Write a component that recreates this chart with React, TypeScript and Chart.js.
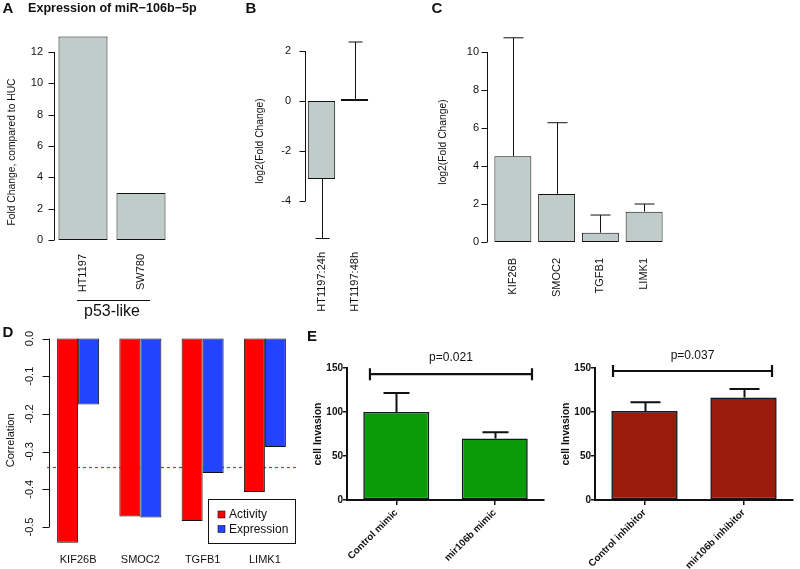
import React, { useEffect, useRef } from "react";
import { Chart, registerables } from "chart.js";

Chart.register(...registerables);

const W = 800;
const H = 569;
const FONT = '"Liberation Sans", Arial, Helvetica, sans-serif';
Chart.defaults.font.family = FONT;
Chart.defaults.color = "#111";

// ---------- Panel A ----------
const catsA = ["HT1197", "SW780"];
const valsA = [13, 3];
const ticksA = [0, 2, 4, 6, 8, 10, 12];
const titleA = "Expression of miR\u2212106b\u22125p";
const groupA = "p53-like";

// ---------- Panel B ----------
const catsB = ["HT1197:24h", "HT1197:48h"];
const valsB = [-3.12, 0.08];
const errB = [-5.5, 2.36];
const ticksB = [-4, -2, 0, 2];

// ---------- Panel C ----------
const catsC = ["KIF26B", "SMOC2", "TGFB1", "LIMK1"];
const valsC = [4.52, 2.53, 0.49, 1.6];
const errC = [10.75, 6.28, 1.42, 2.0];
const ticksC = [0, 2, 4, 6, 8, 10];

// ---------- Panel D ----------
const catsD = ["KIF26B", "SMOC2", "TGFB1", "LIMK1"];
const activityD = [-0.542, -0.472, -0.484, -0.407];
const expressionD = [-0.175, -0.475, -0.357, -0.288];
const ticksD = [0, -0.1, -0.2, -0.3, -0.4, -0.5];
const thresholdD = -0.341;

// ---------- Panel E ----------
const catsE1 = ["Control mimic", "mir106b mimic"];
const valsE1 = [100, 70];
const errE1 = [121.5, 77];
const catsE2 = ["Control inhibitor", "mir106b inhibitor"];
const valsE2 = [101, 116.5];
const errE2 = [111, 126];
const ticksE = [0, 50, 100, 150];
const pE1 = "p=0.021";
const pE2 = "p=0.037";

const GRAY = "#C0CCC9";
const INK = "#111";

type Area = { l: number; r: number; t: number; b: number };

function frame(area: Area, yW: number) {
  const xH = H - area.b;
  return {
    padding: { left: area.l - yW, right: W - area.r, top: area.t, bottom: 0 },
    yFit: (s: any) => {
      s.width = yW;
    },
    xFit: (s: any) => {
      s.height = xH;
    },
  };
}

function setTicks(values: number[]) {
  return (s: any) => {
    s.ticks = values.map((v) => ({ value: v }));
  };
}

type Txt = { text: string; x: number; y: number; font: string; align?: CanvasTextAlign; rotate?: number };
type Decor = {
  rAxis?: { dx: number; tick: number };
  errors?: { ds: number; hi: number[]; cap: number; width: number }[];
  hline?: { value: number; color: string; dash: number[] };
  texts?: Txt[];
  segs?: { x1: number; y1: number; x2: number; y2: number }[];
  legend?: { x: number; y: number; w: number; h: number; font: string };
  bracket?: { from: number; to: number; value: number; end: number; text: string; font: string; gap: number };
};

function decor(d: Decor) {
  return {
    id: "rdecor",
    beforeDatasetsDraw(chart: any) {
      if (!d.hline) return;
      const { ctx, chartArea: ca, scales } = chart;
      const py = Math.round(scales.y.getPixelForValue(d.hline.value)) + 0.5;
      ctx.save();
      ctx.strokeStyle = d.hline.color;
      ctx.lineWidth = 1.2;
      ctx.setLineDash(d.hline.dash);
      ctx.beginPath();
      ctx.moveTo(ca.left, py);
      ctx.lineTo(ca.right, py);
      ctx.stroke();
      ctx.restore();
    },
    afterDraw(chart: any) {
      const { ctx, chartArea: ca, scales } = chart;
      const xs = scales.x;
      const ys = scales.y;
      ctx.save();
      ctx.strokeStyle = INK;
      ctx.fillStyle = INK;
      if (d.rAxis) {
        const vals = ys.ticks.map((t: any) => t.value);
        const ax = Math.round(ca.left + d.rAxis.dx) + 0.5;
        ctx.lineWidth = 1;
        ctx.beginPath();
        ctx.moveTo(ax, ys.getPixelForValue(Math.max(...vals)));
        ctx.lineTo(ax, ys.getPixelForValue(Math.min(...vals)));
        for (const v of vals) {
          const py = Math.round(ys.getPixelForValue(v)) + 0.5;
          ctx.moveTo(ax - d.rAxis.tick, py);
          ctx.lineTo(ax, py);
        }
        ctx.stroke();
      }
      if (d.errors) {
        for (const e of d.errors) {
          const meta = chart.getDatasetMeta(e.ds);
          const data = chart.data.datasets[e.ds].data;
          meta.data.forEach((bar: any, i: number) => {
            const y0 = ys.getPixelForValue(data[i]);
            const y1 = ys.getPixelForValue(e.hi[i]);
            const bx = Math.round(bar.x) + 0.5;
            ctx.lineWidth = e.width;
            ctx.beginPath();
            ctx.moveTo(bx, y0);
            ctx.lineTo(bx, y1);
            ctx.moveTo(bx - e.cap / 2, y1);
            ctx.lineTo(bx + e.cap / 2, y1);
            ctx.stroke();
          });
        }
      }
      if (d.bracket) {
        const b = d.bracket;
        const x1 = xs.getPixelForValue(b.from);
        const x2 = xs.getPixelForValue(b.to);
        const py = ys.getPixelForValue(b.value);
        ctx.lineWidth = 2.2;
        ctx.beginPath();
        ctx.moveTo(x1, py);
        ctx.lineTo(x2, py);
        ctx.moveTo(x1, py - b.end);
        ctx.lineTo(x1, py + b.end);
        ctx.moveTo(x2, py - b.end);
        ctx.lineTo(x2, py + b.end);
        ctx.stroke();
        ctx.font = b.font;
        ctx.textAlign = "center";
        ctx.textBaseline = "middle";
        ctx.fillText(b.text, (x1 + x2) / 2, py - b.gap);
      }
      if (d.legend) {
        const L = d.legend;
        ctx.lineWidth = 1;
        ctx.strokeRect(L.x + 0.5, L.y + 0.5, L.w, L.h);
        ctx.font = L.font;
        ctx.textAlign = "left";
        ctx.textBaseline = "middle";
        chart.data.datasets.forEach((ds: any, i: number) => {
          const cy = L.y + 15.5 + i * 14.5;
          ctx.fillStyle = ds.backgroundColor;
          ctx.fillRect(L.x + 10, cy - 3.5, 7, 7);
          ctx.lineWidth = 0.6;
          ctx.strokeRect(L.x + 10, cy - 3.5, 7, 7);
          ctx.fillStyle = INK;
          ctx.fillText(ds.label, L.x + 21, cy + 0.5);
        });
      }
      if (d.segs) {
        ctx.lineWidth = 1;
        for (const s of d.segs) {
          ctx.beginPath();
          ctx.moveTo(s.x1, s.y1 + 0.5);
          ctx.lineTo(s.x2, s.y2 + 0.5);
          ctx.stroke();
        }
      }
      if (d.texts) {
        for (const t of d.texts) {
          ctx.save();
          ctx.font = t.font;
          ctx.fillStyle = INK;
          ctx.textAlign = t.align || "left";
          ctx.textBaseline = "middle";
          ctx.translate(t.x, t.y);
          if (t.rotate) ctx.rotate((t.rotate * Math.PI) / 180);
          ctx.fillText(t.text, 0, 0);
          ctx.restore();
        }
      }
      ctx.restore();
    },
  };
}

const noGrid = { display: false, drawTicks: false };

function baseOptions(f: any, x: any, y: any) {
  return {
    animation: false,
    responsive: false,
    maintainAspectRatio: false,
    events: [],
    layout: { padding: f.padding },
    plugins: { legend: { display: false }, tooltip: { enabled: false }, title: { display: false } },
    scales: { x: { afterFit: f.xFit, ...x }, y: { afterFit: f.yFit, ...y } },
  };
}

function configA() {
  const f = frame({ l: 54, r: 170, t: 27, b: 240 }, 40);
  return {
    type: "bar",
    data: {
      labels: catsA,
      datasets: [
        { label: "Fold Change", data: valsA, backgroundColor: GRAY, borderColor: INK, borderWidth: 1, borderSkipped: false, barPercentage: 0.845, categoryPercentage: 1 },
      ],
    },
    options: baseOptions(
      f,
      { grid: noGrid, border: { display: false }, ticks: { autoSkip: false, minRotation: 90, maxRotation: 90, padding: 14, font: { size: 11 }, color: INK } },
      { min: 0, max: 13.6, afterBuildTicks: setTicks(ticksA), grid: noGrid, border: { display: false }, ticks: { padding: 11, font: { size: 11 }, color: INK, callback: (v: number) => String(v) } }
    ),
    plugins: [
      decor({
        rAxis: { dx: 0, tick: 6 },
        segs: [{ x1: 77, y1: 300, x2: 150, y2: 300 }],
        texts: [
          { text: "A", x: 8, y: 9, font: `bold 15px ${FONT}`, align: "center" },
          { text: titleA, x: 28, y: 9, font: `bold 12.6px ${FONT}` },
          { text: "Fold Change, compared to HUC", x: 12, y: 152, font: `10.3px ${FONT}`, align: "center", rotate: -90 },
          { text: groupA, x: 112, y: 312, font: `16px ${FONT}`, align: "center" },
        ],
      }),
    ],
  };
}

function configB() {
  const f = frame({ l: 305, r: 371, t: 36, b: 246 }, 51);
  return {
    type: "bar",
    data: {
      labels: catsB,
      datasets: [
        { label: "log2(Fold Change)", data: valsB, backgroundColor: GRAY, borderColor: INK, borderWidth: 1, borderSkipped: false, barPercentage: 0.83, categoryPercentage: 1 },
      ],
    },
    options: baseOptions(
      f,
      { grid: noGrid, border: { display: false }, ticks: { autoSkip: false, minRotation: 90, maxRotation: 90, padding: 6, font: { size: 11 }, color: INK } },
      {
        min: -5.8,
        max: 2.6,
        afterBuildTicks: setTicks(ticksB),
        grid: noGrid,
        border: { display: false },
        title: { display: true, text: "log2(Fold Change)", font: { size: 10.3 }, padding: 0, color: INK },
        ticks: { padding: 14, font: { size: 11 }, color: INK, callback: (v: number) => String(v) },
      }
    ),
    plugins: [
      decor({
        rAxis: { dx: 0, tick: 6 },
        errors: [{ ds: 0, hi: errB, cap: 14, width: 1 }],
        texts: [{ text: "B", x: 251, y: 9, font: `bold 15px ${FONT}`, align: "center" }],
      }),
    ],
  };
}

function configC() {
  const f = frame({ l: 491, r: 666, t: 34, b: 250 }, 54);
  return {
    type: "bar",
    data: {
      labels: catsC,
      datasets: [
        { label: "log2(Fold Change)", data: valsC, backgroundColor: GRAY, borderColor: INK, borderWidth: 1, borderSkipped: false, barPercentage: 0.845, categoryPercentage: 1 },
      ],
    },
    options: baseOptions(
      f,
      { grid: noGrid, border: { display: false }, ticks: { autoSkip: false, minRotation: 90, maxRotation: 90, padding: 8, font: { size: 11 }, color: INK } },
      {
        min: -0.42,
        max: 10.95,
        afterBuildTicks: setTicks(ticksC),
        grid: noGrid,
        border: { display: false },
        title: { display: true, text: "log2(Fold Change)", font: { size: 10.3 }, padding: 0, color: INK },
        ticks: { padding: 12, font: { size: 11 }, color: INK, callback: (v: number) => String(v) },
      }
    ),
    plugins: [
      decor({
        rAxis: { dx: -4, tick: 6 },
        errors: [{ ds: 0, hi: errC, cap: 20, width: 1 }],
        texts: [{ text: "C", x: 437, y: 9, font: `bold 15px ${FONT}`, align: "center" }],
      }),
    ],
  };
}

function configD() {
  const f = frame({ l: 47, r: 296, t: 331, b: 549.6 }, 43);
  const bar = { borderColor: INK, borderWidth: 1, borderSkipped: false, barPercentage: 1, categoryPercentage: 0.675 };
  return {
    type: "bar",
    data: {
      labels: catsD,
      datasets: [
        { label: "Activity", data: activityD, backgroundColor: "#FF0000", ...bar },
        { label: "Expression", data: expressionD, backgroundColor: "#2244FF", ...bar },
      ],
    },
    options: baseOptions(
      f,
      { grid: noGrid, border: { display: false }, ticks: { autoSkip: false, maxRotation: 0, padding: 4, font: { size: 11 }, color: INK } },
      {
        min: -0.56,
        max: 0.02,
        afterBuildTicks: setTicks(ticksD),
        grid: noGrid,
        border: { display: false },
        title: { display: true, text: "Correlation", font: { size: 11 }, padding: 0, color: INK },
        ticks: { padding: 7.5, minRotation: 90, maxRotation: 90, crossAlign: "center", font: { size: 11 }, color: INK, callback: (v: number) => v.toFixed(1) },
      }
    ),
    plugins: [
      decor({
        rAxis: { dx: 2, tick: 7 },
        hline: { value: thresholdD, color: "#E0202A", dash: [3, 3] },
        legend: { x: 208, y: 499, w: 87, h: 44, font: `12px ${FONT}` },
        texts: [{ text: "D", x: 8, y: 333, font: `bold 15px ${FONT}`, align: "center" }],
      }),
    ],
  };
}

function configE(cats: string[], vals: number[], err: number[], color: string, area: Area, yW: number, cap: number, br: any, letter?: boolean) {
  const f = frame(area, yW);
  const axisGrid = { display: true, drawOnChartArea: false, drawTicks: true, tickLength: 5, color: INK, lineWidth: 1.5, offset: false };
  return {
    type: "bar",
    data: {
      labels: cats,
      datasets: [
        { label: "cell Invasion", data: vals, backgroundColor: color, borderColor: "#15152a", borderWidth: 1.6, borderSkipped: false, barPercentage: 0.67, categoryPercentage: 1 },
      ],
    },
    options: baseOptions(
      f,
      {
        grid: axisGrid,
        border: { display: true, color: INK, width: 2 },
        ticks: { autoSkip: false, minRotation: 45, maxRotation: 45, padding: 2, font: { size: 9.8, weight: "bold" }, color: INK },
      },
      {
        min: 0,
        max: 150,
        afterBuildTicks: setTicks(ticksE),
        grid: { ...axisGrid, tickLength: 4 },
        border: { display: true, color: INK, width: 2 },
        title: { display: true, text: "cell Invasion", font: { size: 10.5, weight: "bold" }, padding: 0, color: INK },
        ticks: { padding: 0, font: { size: 10, weight: "bold" }, color: INK, callback: (v: number) => String(v) },
      }
    ),
    plugins: [
      decor({
        errors: [{ ds: 0, hi: err, cap, width: 2 }],
        bracket: br,
        texts: letter ? [{ text: "E", x: 312, y: 337, font: `bold 15px ${FONT}`, align: "center" }] : [],
      }),
    ],
  };
}

const makers = [
  configA,
  configB,
  configC,
  configD,
  () =>
    configE(catsE1, valsE1, errE1, "#0A9A0A", { l: 347, r: 544, t: 368, b: 500 }, 35, 26, { from: -0.267, to: 1.378, value: 143, end: 6, text: pE1, font: `12px ${FONT}`, gap: 16 }, true),
  () =>
    configE(catsE2, valsE2, errE2, "#9B1B0B", { l: 595, r: 793, t: 368, b: 500 }, 35, 30, { from: -0.318, to: 1.288, value: 146.6, end: 6, text: pE2, font: `12px ${FONT}`, gap: 15 }),
];

function ChartCanvas({ make }: { make: () => any }) {
  const ref = useRef<HTMLCanvasElement>(null);
  useEffect(() => {
    const chart = new Chart(ref.current as HTMLCanvasElement, make());
    return () => chart.destroy();
  }, [make]);
  return <canvas ref={ref} width={W} height={H} style={{ position: "absolute", left: 0, top: 0, width: W, height: H }} />;
}

export default function App() {
  return (
    <div style={{ position: "fixed", left: 0, top: 0, width: W, height: H, background: "#fff", overflow: "hidden" }}>
      {makers.map((m, i) => (
        <ChartCanvas key={i} make={m} />
      ))}
    </div>
  );
}
